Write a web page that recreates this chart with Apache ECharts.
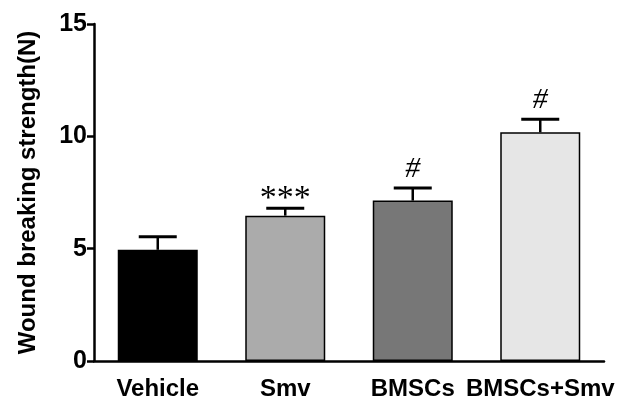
<!DOCTYPE html>
<html><head><meta charset="utf-8">
<script src="https://cdn.jsdelivr.net/npm/echarts@6/dist/echarts.min.js"></script>
<style>html,body{margin:0;padding:0;background:#fff}#c{width:635px;height:403px}</style>
</head><body><div id="c"></div>
<script>
const categories = ['Vehicle', 'Smv', 'BMSCs', 'BMSCs+Smv'];
const means = [4.95, 6.47, 7.14, 10.18];
const errors = [0.58, 0.33, 0.56, 0.58];
const marks = ['', '***', '#', '#'];
const barColors = ['#000000', '#ababab', '#777777', '#e6e6e6'];
const yTicks = [0, 5, 10, 15];

const font = 'Liberation Sans, Arial, sans-serif';
const chart = echarts.init(document.getElementById('c'));
chart.setOption({
  animation: false,
  grid: { left: 94, right: 31, top: 24, bottom: 42 },
  xAxis: {
    type: 'category', data: categories,
    axisLine: { lineStyle: { color: '#000', width: 2.5 } },
    axisTick: { alignWithLabel: true, length: 8, lineStyle: { color: '#000', width: 2.5 } },
    axisLabel: { interval: 0, hideOverlap: false, color: '#000', fontFamily: font, fontWeight: 'bold', fontSize: 24, margin: 16 }
  },
  yAxis: {
    type: 'value', min: 0, max: 15, interval: 5,
    name: 'Wound breaking strength(N)', nameLocation: 'middle', nameGap: 54,
    nameTextStyle: { color: '#000', fontFamily: font, fontWeight: 'bold', fontSize: 24 },
    axisLine: { show: true, lineStyle: { color: '#000', width: 2.5 } },
    axisTick: { show: true, length: 7, lineStyle: { color: '#000', width: 2.5 } },
    axisLabel: { color: '#000', fontFamily: font, fontWeight: 'bold', fontSize: 25, margin: 7,
      formatter: v => yTicks.includes(v) ? String(v) : '' },
    splitLine: { show: false }
  },
  series: [
    {
      type: 'bar', barWidth: 80,
      data: means.map((v, i) => ({ value: v, itemStyle: { color: barColors[i], borderColor: '#000', borderWidth: 1.5 } }))
    },
    {
      type: 'custom', z: 5,
      data: means.map((v, i) => [i, v, v + errors[i], marks[i]]),
      renderItem: function (params, api) {
        const i = api.value(0);
        const base = api.coord([i, api.value(1)]);
        const top = api.coord([i, api.value(2)]);
        const half = 19;
        const mk = marks[params.dataIndex];
        const children = [
          { type: 'line', shape: { x1: base[0], y1: base[1], x2: top[0], y2: top[1] }, style: { stroke: '#000', lineWidth: 2.5 } },
          { type: 'line', shape: { x1: top[0] - half, y1: top[1], x2: top[0] + half, y2: top[1] }, style: { stroke: '#000', lineWidth: 3 } }
        ];
        if (mk) {
          const isStar = mk.indexOf('*') >= 0;
          children.push({ type: 'text', style: {
            text: mk, x: top[0], y: top[1] + (isStar ? 8 : -4),
            align: 'center', verticalAlign: 'bottom',
            font: (isStar ? '34px' : 'italic 30px') + ' "Liberation Serif", "Times New Roman", serif',
            fill: '#000'
          } });
        }
        return { type: 'group', children };
      }
    }
  ]
});
</script></body></html>
